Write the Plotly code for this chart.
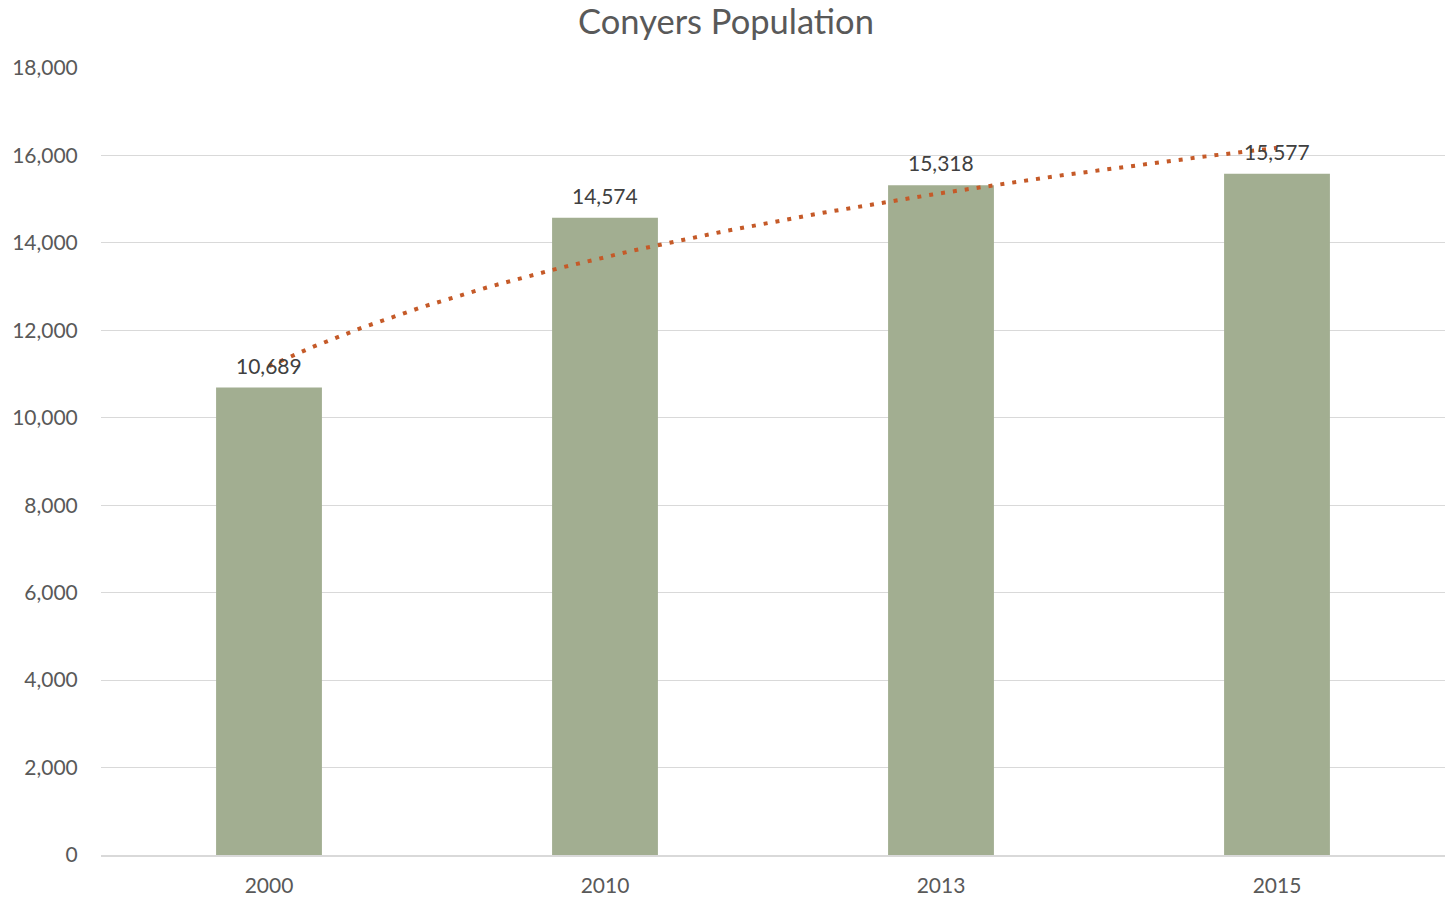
import numpy as np
import plotly.graph_objects as go

years = ["2000", "2010", "2013", "2015"]
population = [10689, 14574, 15318, 15577]
y_ticks = [0, 2000, 4000, 6000, 8000, 10000, 12000, 14000, 16000, 18000]

idx = np.arange(len(years))
# Logarithmic trendline (Excel-style): y = a*ln(k) + b, k = 1..n
lnk = np.log(idx + 1)
a, b = np.polyfit(lnk, population, 1)
tx = np.linspace(0, len(years) - 1, 200)
ty = a * np.log(tx + 1) + b

FONT = "Lato, Carlito, sans-serif"

fig = go.Figure()
fig.add_trace(go.Bar(
    x=idx, y=population, width=0.315,
    marker=dict(color="#A2AE91", line=dict(width=0)),
    showlegend=False,
))
fig.add_trace(go.Scatter(
    x=tx, y=ty, mode="lines",
    line=dict(color="#C55A28", width=4, dash="4px,8px"),
    showlegend=False, hoverinfo="skip",
))
for xi, v in zip(idx, population):
    fig.add_annotation(
        x=xi, y=v, text=f"{v:,}", showarrow=False, yanchor="bottom", yshift=8,
        font=dict(family=FONT, size=21, color="#404040"),
    )

fig.update_layout(
    width=1452, height=898,
    paper_bgcolor="white", plot_bgcolor="white",
    margin=dict(l=101, r=7, t=67, b=43),
    title=dict(text="Conyers Population", x=0.5, xanchor="center", y=0.9755, yanchor="middle",
               font=dict(family=FONT, size=34.5, color="#595959")),
    font=dict(family=FONT, size=21, color="#595959"),
)
fig.update_xaxes(
    range=[-0.5, 3.5], tickmode="array", tickvals=list(idx), ticktext=years,
    showgrid=False, zeroline=False, showline=True, linecolor="#D9D9D9", linewidth=1.5,
    ticks="outside", ticklen=11, tickcolor="rgba(0,0,0,0)", automargin=False,
    tickfont=dict(family=FONT, size=21, color="#595959"),
)
fig.update_yaxes(
    range=[0, 18020], tickmode="array", tickvals=y_ticks,
    ticktext=[f"{v:,}" for v in y_ticks],
    showgrid=True, gridcolor="#D9D9D9", gridwidth=1.2, zeroline=False,
    ticks="outside", ticklen=18, tickcolor="rgba(0,0,0,0)", automargin=False,
    tickfont=dict(family=FONT, size=21, color="#595959"),
)
fig.write_html(
    "out.html",
    config={"displayModeBar": False},
    post_script="document.body.style.margin='0';document.documentElement.style.overflow='hidden';",
)
